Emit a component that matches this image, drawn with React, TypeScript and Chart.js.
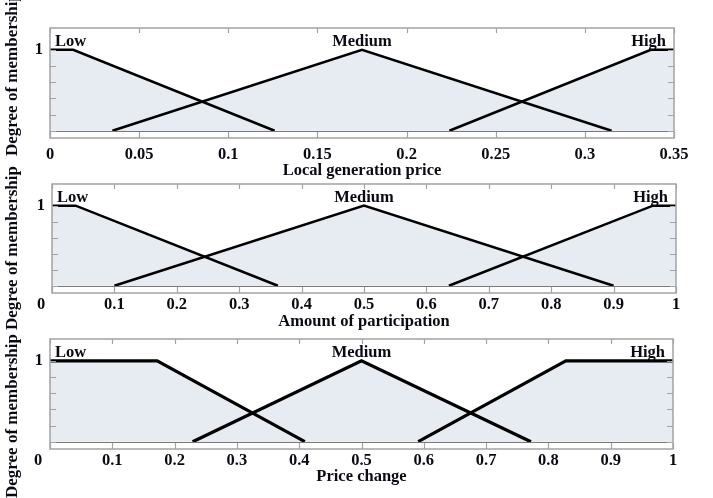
import React, { useEffect, useRef } from 'react';
import { Chart, registerables } from 'chart.js';
Chart.register(...registerables);

const W = 713;
const H = 498;

const Y_TICKS = [0, 0.2, 0.4, 0.6, 0.8, 1];
const Y_TITLE = 'Degree of membership';
const SET_NAMES = ['Low', 'Medium', 'High'];

// Panel 1: Local generation price
const P1_TITLE = 'Local generation price';
const P1_X_TICKS = [0, 0.05, 0.1, 0.15, 0.2, 0.25, 0.3, 0.35];
const P1_X_LABELS = ['0', '0.05', '0.1', '0.15', '0.2', '0.25', '0.3', '0.35'];
const P1_LOW_X = [0, 0.013, 0.126];
const P1_LOW_Y = [1, 1, 0];
const P1_MED_X = [0.035, 0.175, 0.315];
const P1_MED_Y = [0, 1, 0];
const P1_HIGH_X = [0.224, 0.337, 0.35];
const P1_HIGH_Y = [0, 1, 1];

// Panel 2: Amount of participation
const P2_TITLE = 'Amount of participation';
const P2_X_TICKS = [0, 0.1, 0.2, 0.3, 0.4, 0.5, 0.6, 0.7, 0.8, 0.9, 1];
const P2_X_LABELS = ['0', '0.1', '0.2', '0.3', '0.4', '0.5', '0.6', '0.7', '0.8', '0.9', '1'];
const P2_LOW_X = [0, 0.038, 0.362];
const P2_LOW_Y = [1, 1, 0];
const P2_MED_X = [0.1, 0.5, 0.9];
const P2_MED_Y = [0, 1, 0];
const P2_HIGH_X = [0.636, 0.963, 1];
const P2_HIGH_Y = [0, 1, 1];

// Panel 3: Price change
const P3_TITLE = 'Price change';
const P3_X_TICKS = [0, 0.1, 0.2, 0.3, 0.4, 0.5, 0.6, 0.7, 0.8, 0.9, 1];
const P3_X_LABELS = ['0', '0.1', '0.2', '0.3', '0.4', '0.5', '0.6', '0.7', '0.8', '0.9', '1'];
const P3_LOW_X = [0, 0.172, 0.409];
const P3_LOW_Y = [1, 1, 0];
const P3_MED_X = [0.229, 0.5, 0.772];
const P3_MED_Y = [0, 1, 0];
const P3_HIGH_X = [0.591, 0.828, 1];
const P3_HIGH_Y = [0, 1, 1];

const FONT_FAMILY = '"Liberation Serif", "Times New Roman", serif';
const FILL = '#e7ebf2';
const FRAME = '#a3a3a3';
const BASE = '#7a7a7a';
const TEXT = '#0a0a14';

type Panel = {
  title: string;
  xTicks: number[];
  xLabels: string[];
  sets: { x: number[]; y: number[] }[];
  area: { left: number; top: number; right: number; bottom: number };
  xAxisH: number;
  tickPad: number;
  lineW: number;
  yTitleY: number;
  zeroShift: number;
};

const PANELS: Panel[] = [
  {
    title: P1_TITLE,
    xTicks: P1_X_TICKS,
    xLabels: P1_X_LABELS,
    sets: [
      { x: P1_LOW_X, y: P1_LOW_Y },
      { x: P1_MED_X, y: P1_MED_Y },
      { x: P1_HIGH_X, y: P1_HIGH_Y },
    ],
    area: { left: 50, top: 28, right: 674, bottom: 138 },
    xAxisH: 43,
    tickPad: 7,
    lineW: 2.5,
    yTitleY: 74,
    zeroShift: 0,
  },
  {
    title: P2_TITLE,
    xTicks: P2_X_TICKS,
    xLabels: P2_X_LABELS,
    sets: [
      { x: P2_LOW_X, y: P2_LOW_Y },
      { x: P2_MED_X, y: P2_MED_Y },
      { x: P2_HIGH_X, y: P2_HIGH_Y },
    ],
    area: { left: 52, top: 184, right: 676, bottom: 293 },
    xAxisH: 39,
    tickPad: 2,
    lineW: 2.5,
    yTitleY: 248,
    zeroShift: -11,
  },
  {
    title: P3_TITLE,
    xTicks: P3_X_TICKS,
    xLabels: P3_X_LABELS,
    sets: [
      { x: P3_LOW_X, y: P3_LOW_Y },
      { x: P3_MED_X, y: P3_MED_Y },
      { x: P3_HIGH_X, y: P3_HIGH_Y },
    ],
    area: { left: 50, top: 339, right: 673, bottom: 449 },
    xAxisH: 38,
    tickPad: 2,
    lineW: 3.2,
    yTitleY: 416,
    zeroShift: -12,
  },
];

function makeChart(canvas: HTMLCanvasElement, p: Panel) {
  const font = { family: FONT_FAMILY, size: 16.5, weight: 'bold' as const };
  const frame = {
    id: 'frame' + p.title,
    afterDatasetsDraw(chart: any) {
      const ctx = chart.ctx;
      const a = chart.chartArea;
      const xs = chart.scales.x;
      const ys = chart.scales.y;
      ctx.save();
      // baseline at zero membership
      const y0 = Math.round(ys.getPixelForValue(0)) + 0.5;
      ctx.strokeStyle = BASE;
      ctx.lineWidth = 1.2;
      ctx.beginPath();
      ctx.moveTo(a.left, y0);
      ctx.lineTo(a.right, y0);
      ctx.stroke();
      // frame
      ctx.strokeStyle = FRAME;
      ctx.lineWidth = 1.5;
      ctx.strokeRect(a.left, a.top, a.right - a.left, a.bottom - a.top);
      // inward ticks
      ctx.lineWidth = 1.2;
      ctx.beginPath();
      p.xTicks.forEach((v) => {
        const x = Math.round(xs.getPixelForValue(v)) + 0.5;
        ctx.moveTo(x, a.top);
        ctx.lineTo(x, a.top + 5);
        ctx.moveTo(x, a.bottom);
        ctx.lineTo(x, a.bottom - 6);
      });
      Y_TICKS.forEach((v) => {
        const y = Math.round(ys.getPixelForValue(v)) + 0.5;
        ctx.moveTo(a.left, y);
        ctx.lineTo(a.left + 6, y);
        ctx.moveTo(a.right, y);
        ctx.lineTo(a.right - 6, y);
      });
      ctx.stroke();
      // set names
      ctx.fillStyle = TEXT;
      ctx.font = `bold 16.5px ${FONT_FAMILY}`;
      ctx.textBaseline = 'alphabetic';
      const yName = ys.getPixelForValue(1) - 4;
      ctx.textAlign = 'left';
      ctx.fillText(SET_NAMES[0], xs.getPixelForValue(p.xTicks[0]) + 5, yName);
      ctx.textAlign = 'center';
      ctx.fillText(SET_NAMES[1], xs.getPixelForValue(p.sets[1].x[1]), yName);
      ctx.textAlign = 'right';
      ctx.fillText(SET_NAMES[2], xs.getPixelForValue(p.xTicks[p.xTicks.length - 1]) - 8, yName);
      // shifted zero tick label
      if (p.zeroShift !== 0) {
        ctx.textAlign = 'center';
        ctx.textBaseline = 'top';
        ctx.fillText(p.xLabels[0], xs.getPixelForValue(p.xTicks[0]) + p.zeroShift, a.bottom + p.tickPad + 1);
      }
      // y title
      ctx.translate(13, p.yTitleY);
      ctx.rotate(-Math.PI / 2);
      ctx.textAlign = 'center';
      ctx.textBaseline = 'middle';
      ctx.font = `bold 17px ${FONT_FAMILY}`;
      ctx.fillText(Y_TITLE, 0, 0);
      ctx.restore();
    },
  };

  return new Chart(canvas, {
    type: 'line',
    data: {
      datasets: p.sets.map((s, k) => ({
        label: SET_NAMES[k],
        data: s.x.map((x, i) => ({ x, y: s.y[i] })),
        borderColor: '#000',
        borderWidth: p.lineW,
        backgroundColor: FILL,
        fill: 'origin',
        pointRadius: 0,
        tension: 0,
        borderCapStyle: 'butt',
        borderJoinStyle: 'miter',
      })),
    },
    options: {
      responsive: false,
      animation: false,
      layout: {
        padding: {
          left: 0,
          top: p.area.top,
          right: W - p.area.right,
          bottom: H - p.area.bottom - p.xAxisH,
        },
      },
      plugins: {
        legend: { display: false },
        tooltip: { enabled: false },
        filler: { drawTime: 'beforeDatasetsDraw' },
      } as any,
      scales: {
        x: {
          type: 'linear',
          min: p.xTicks[0],
          max: p.xTicks[p.xTicks.length - 1],
          afterBuildTicks: (s: any) => {
            s.ticks = p.xTicks.map((v) => ({ value: v }));
          },
          afterFit: (s: any) => {
            s.height = p.xAxisH;
          },
          grid: { display: false, drawTicks: false },
          border: { display: false },
          ticks: {
            autoSkip: false,
            maxRotation: 0,
            padding: p.tickPad,
            color: TEXT,
            font,
            callback: (_v: any, i: number) => (i === 0 && p.zeroShift !== 0 ? '' : p.xLabels[i]),
          },
          title: {
            display: true,
            text: p.title,
            color: TEXT,
            font: { family: FONT_FAMILY, size: 16.5, weight: 'bold' },
            padding: 0,
          },
        },
        y: {
          type: 'linear',
          min: -0.09,
          max: 1.27,
          afterBuildTicks: (s: any) => {
            s.ticks = Y_TICKS.map((v) => ({ value: v }));
          },
          afterFit: (s: any) => {
            s.width = p.area.left;
          },
          grid: { display: false, drawTicks: false },
          border: { display: false },
          ticks: {
            autoSkip: false,
            padding: 7,
            color: TEXT,
            font,
            callback: (v: any) => (v === 1 ? '1' : ''),
          },
          title: { display: false },
        },
      },
    } as any,
    plugins: [frame],
  });
}

export default function App() {
  const r1 = useRef<HTMLCanvasElement>(null);
  const r2 = useRef<HTMLCanvasElement>(null);
  const r3 = useRef<HTMLCanvasElement>(null);

  useEffect(() => {
    const refs = [r1, r2, r3];
    const charts = PANELS.map((p, i) => makeChart(refs[i].current as HTMLCanvasElement, p));
    return () => charts.forEach((c) => c.destroy());
  }, []);

  const style: React.CSSProperties = { position: 'absolute', left: 0, top: 0, width: W, height: H };
  return (
    <div style={{ position: 'absolute', left: 0, top: 0, width: W, height: H, background: '#fff', overflow: 'hidden' }}>
      <canvas ref={r1} width={W} height={H} style={style} />
      <canvas ref={r2} width={W} height={H} style={style} />
      <canvas ref={r3} width={W} height={H} style={style} />
    </div>
  );
}
